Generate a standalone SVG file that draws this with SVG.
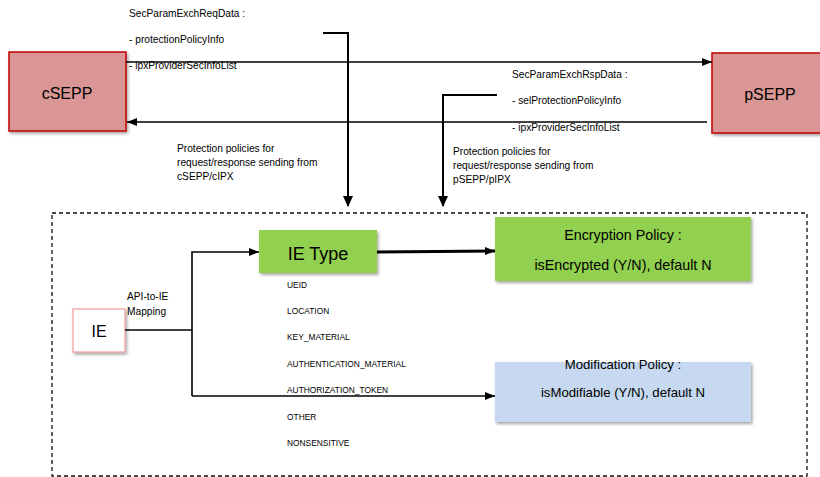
<svg xmlns="http://www.w3.org/2000/svg" width="820" height="477" viewBox="0 0 820 477">
<defs>
<style>
text{font-family:"Liberation Sans",Arial,sans-serif;fill:#000}
.lbl{font-size:10.2px}
.lst{font-size:8.4px}
.pol{font-size:14.3px;text-anchor:middle}
.big{font-size:16px;text-anchor:middle}
.ln{fill:none;stroke:#000}
</style>
<filter id="sh" x="-10%" y="-10%" width="130%" height="140%">
<feDropShadow dx="1.5" dy="2" stdDeviation="1.5" flood-color="#000" flood-opacity="0.35"/>
</filter>
<marker id="ah" viewBox="0 0 10 8" refX="10" refY="4" markerWidth="10" markerHeight="8" markerUnits="userSpaceOnUse" orient="auto">
<path d="M0,0L10,4L0,8z" fill="#000"/>
</marker>
</defs>
<rect x="0" y="0" width="820" height="477" fill="#fff"/>

<g id="dashed-frame">
<rect x="52" y="213" width="755" height="263" fill="none" stroke="#111" stroke-width="1.3" stroke-dasharray="4,3"/>
</g>

<g id="cSEPP">
<rect x="9" y="52" width="117" height="79" fill="#D99694" stroke="#C00000" stroke-width="1.5" filter="url(#sh)"/>
<text class="big" x="67" y="99">cSEPP</text>
</g>
<g id="pSEPP">
<rect x="712" y="53" width="115" height="80" fill="#D99694" stroke="#C00000" stroke-width="1.5" filter="url(#sh)"/>
<text class="big" x="770" y="100">pSEPP</text>
</g>

<g id="req-label">
<text class="lbl" x="129" y="17">SecParamExchReqData :</text>
<text class="lbl" x="129" y="43">- protectionPolicyInfo</text>
<text class="lbl" x="129" y="69">- ipxProviderSecInfoList</text>
</g>
<g id="rsp-label">
<text class="lbl" x="512" y="78">SecParamExchRspData :</text>
<text class="lbl" x="512" y="104">- selProtectionPolicyInfo</text>
<text class="lbl" x="512" y="131">- ipxProviderSecInfoList</text>
</g>
<g id="c-policy-label">
<text class="lbl" x="177" y="152">Protection policies for</text>
<text class="lbl" x="177" y="166">request/response sending from</text>
<text class="lbl" x="177" y="180">cSEPP/cIPX</text>
</g>
<g id="p-policy-label">
<text class="lbl" x="453" y="155">Protection policies for</text>
<text class="lbl" x="453" y="169">request/response sending from</text>
<text class="lbl" x="453" y="183">pSEPP/pIPX</text>
</g>

<g id="IE">
<rect x="73" y="309" width="52" height="43" fill="#fff" stroke="#F09A9A" stroke-width="1.2" filter="url(#sh)"/>
<text class="big" x="99" y="337">IE</text>
</g>
<g id="mapping-label">
<text class="lbl" x="127" y="300">API-to-IE</text>
<text class="lbl" x="127" y="315">Mapping</text>
</g>

<g id="IEType">
<rect x="259" y="230" width="118" height="43" fill="#92D050" filter="url(#sh)"/>
<text x="318" y="260" style="font-size:18px;text-anchor:middle">IE Type</text>
</g>
<g id="ie-type-list">
<text class="lst" x="287" y="288">UEID</text>
<text class="lst" x="287" y="314">LOCATION</text>
<text class="lst" x="287" y="340">KEY_MATERIAL</text>
<text class="lst" x="287" y="367">AUTHENTICATION_MATERIAL</text>
<text class="lst" x="287" y="393">AUTHORIZATION_TOKEN</text>
<text class="lst" x="287" y="420">OTHER</text>
<text class="lst" x="287" y="446">NONSENSITIVE</text>
</g>

<g id="EncryptionPolicy">
<rect x="495" y="217" width="256" height="64" fill="#92D050" filter="url(#sh)"/>
<text class="pol" x="623" y="240">Encryption Policy :</text>
<text class="pol" x="623" y="270">isEncrypted (Y/N), default N</text>
</g>
<g id="ModificationPolicy">
<rect x="495" y="362" width="256" height="60" fill="#C6D9F0" filter="url(#sh)"/>
<text class="pol" x="623" y="369" style="font-size:13.2px">Modification Policy :</text>
<text class="pol" x="623" y="397" style="font-size:13.2px">isModifiable (Y/N), default N</text>
</g>

<g id="connectors">
<path class="ln" d="M126,62H712" stroke-width="1.3" marker-end="url(#ah)"/>
<path class="ln" d="M707,122H127" stroke-width="1.3" marker-end="url(#ah)"/>
<path class="ln" d="M323,33H348V206" stroke-width="2"/>
<path d="M343,196L348,207L353,196z" fill="#000"/>
<path class="ln" d="M497,95H443V206" stroke-width="2"/>
<path d="M438,196L443,207L448,196z" fill="#000"/>
<path class="ln" d="M125,330H192" stroke-width="1.6"/>
<path class="ln" d="M192,396V252H259" stroke-width="1.6" marker-end="url(#ah)"/>
<path class="ln" d="M192,396H495" stroke-width="1.6" marker-end="url(#ah)"/>
<path class="ln" d="M377,252L495,251" stroke-width="3" marker-end="url(#ah)"/>
</g>
</svg>
